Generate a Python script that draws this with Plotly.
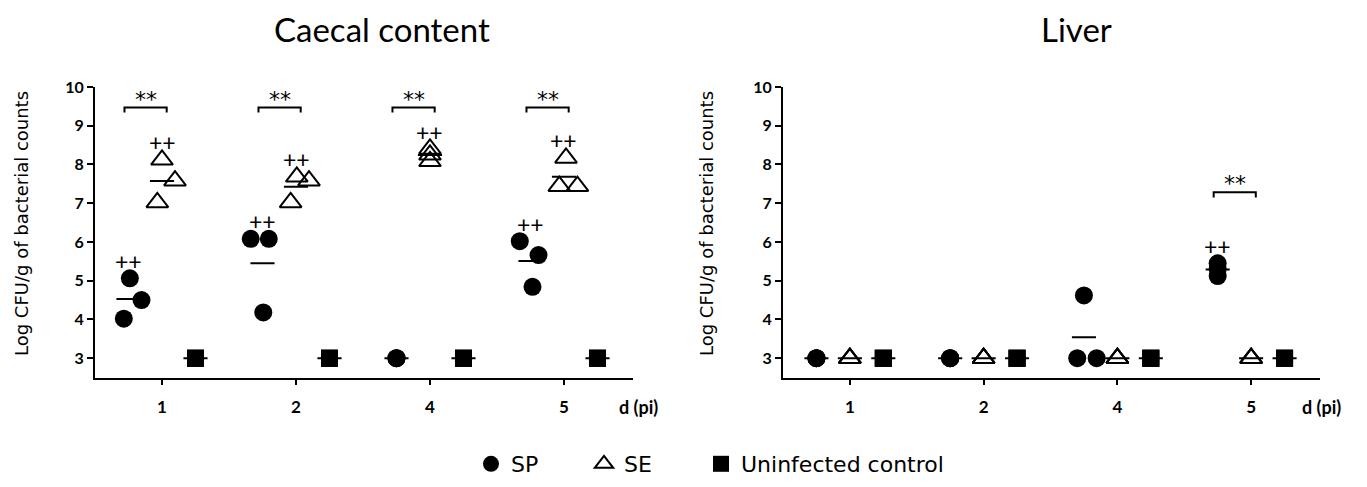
import numpy as np
import plotly.graph_objects as go

# ---------------- data ----------------
days = ["1", "2", "4", "5"]
groups = ["SP", "SE", "Uninfected control"]

# Caecal content: log CFU/g, three animals per group and day
caecal_sp = [[4.02, 5.06, 4.50], [6.08, 6.08, 4.18], [3.00, 3.00, 3.00], [6.02, 5.66, 4.84]]
caecal_se = [[8.12, 7.58, 7.02], [7.02, 7.68, 7.58], [8.40, 8.25, 8.08], [8.17, 7.44, 7.44]]
caecal_ctrl = [[3.00, 3.00, 3.00], [3.00, 3.00, 3.00], [3.00, 3.00, 3.00], [3.00, 3.00, 3.00]]

# Liver: log CFU/g
liver_sp = [[3.00, 3.00, 3.00], [3.00, 3.00, 3.00], [4.62, 3.00, 3.00], [5.45, 5.30, 5.12]]
liver_se = [[3.00, 3.00, 3.00], [3.00, 3.00, 3.00], [3.00, 3.00, 3.00], [3.00, 3.00, 3.00]]
liver_ctrl = [[3.00, 3.00, 3.00], [3.00, 3.00, 3.00], [3.00, 3.00, 3.00], [3.00, 3.00, 3.00]]

# significance marks: "++" (group, day index) and "**" bracket days (SP vs SE)
caecal_plus = [("SP", 0), ("SE", 0), ("SP", 1), ("SE", 1), ("SE", 2), ("SP", 3), ("SE", 3)]
caecal_star_days = [0, 1, 2, 3]
liver_plus = [("SP", 3)]
liver_star_days = [3]

# ---------------- layout helpers (positions / styles) ----------------
# page body has an 8px margin: figure is sized to fit inside the window
PAD = 8
FW, FH = 1367 - 2 * PAD, 487 - 2 * PAD


def px(xs):
    return (xs - PAD) / FW


def py(ys):
    return 1 - (ys - PAD) / FH


group_offset = {"SP": -0.25, "SE": 0.0, "Uninfected control": 0.25}
# horizontal scatter of individual points inside each group (visual only)
caecal_jit = {
    "SP": [[-0.035, 0.01, 0.097], [-0.088, 0.047, 0.006], [0, 0, 0], [-0.08, 0.06, 0.015]],
    "SE": [[0.0, 0.097, -0.035], [-0.04, 0.006, 0.097], [0, 0, 0], [0.015, -0.035, 0.10]],
    "Uninfected control": [[0, 0, 0]] * 4,
}
liver_jit = {
    "SP": [[0, 0, 0], [0, 0, 0], [0.0, -0.05, 0.095], [0, 0, 0]],
    "SE": [[0, 0, 0]] * 4,
    "Uninfected control": [[0, 0, 0]] * 4,
}
symbols = {
    "SP": dict(symbol="circle", size=18, color="black"),
    "SE": dict(symbol="triangle-up-open", size=19, color="black", line=dict(width=2, color="black")),
    "Uninfected control": dict(symbol="square", size=17, color="black"),
}
legend_ids = {"SP": "legend", "SE": "legend2", "Uninfected control": "legend3"}
legend_x = {"SP": 471, "SE": 584, "Uninfected control": 701}
FONT = "Lato"
mean_half = 0.09
panels = [
    dict(name="Caecal content", xa="x", ya="y",
         data={"SP": caecal_sp, "SE": caecal_se, "Uninfected control": caecal_ctrl},
         jit=caecal_jit, plus=caecal_plus, stars=caecal_star_days, bracket_y=9.47,
         dom=[px(95), px(633)], title_x=382, ylab_x=21, unit_x=638),
    dict(name="Liver", xa="x2", ya="y2",
         data={"SP": liver_sp, "SE": liver_se, "Uninfected control": liver_ctrl},
         jit=liver_jit, plus=liver_plus, stars=liver_star_days, bracket_y=7.28,
         dom=[px(783), px(1320)], title_x=1076, ylab_x=706, unit_x=1321),
]

fig = go.Figure()
annotations = []

for pi, p in enumerate(panels):
    for g in groups:
        vals = p["data"][g]
        xs, ys = [], []
        mx, my = [], []
        for d, v in enumerate(vals):
            c = d + group_offset[g]
            for k, val in enumerate(v):
                xs.append(c + p["jit"][g][d][k])
                ys.append(val)
            m = float(np.mean(v))
            mx += [c - mean_half, c + mean_half, None]
            my += [m, m, None]
        fig.add_trace(go.Scatter(
            x=xs, y=ys, mode="markers", name=g, legendgroup=g, legend=legend_ids[g],
            showlegend=(pi == 0), marker=symbols[g],
            xaxis=p["xa"], yaxis=p["ya"], hoverinfo="y"))
        fig.add_trace(go.Scatter(
            x=mx, y=my, mode="lines", line=dict(color="black", width=2),
            showlegend=False, legendgroup=g, xaxis=p["xa"], yaxis=p["ya"], hoverinfo="skip"))
    # "++" marks
    for g, d in p["plus"]:
        top = max(p["data"][g][d])
        annotations.append(dict(
            x=d + group_offset[g], y=top + 0.45, xref=p["xa"], yref=p["ya"],
            text="++", showarrow=False, font=dict(family=FONT, size=23, color="black"),
            xanchor="center", yanchor="middle"))
    # "**" brackets
    bx, by = [], []
    by0 = p["bracket_y"]
    for d in p["stars"]:
        x0 = d + group_offset["SP"] - 0.03
        x1 = d + group_offset["SE"] + 0.035
        bx += [x0, x0, x1, x1, None]
        by += [by0 - 0.13, by0, by0, by0 - 0.13, None]
        annotations.append(dict(
            x=(x0 + x1) / 2, y=by0 + 0.22, xref=p["xa"], yref=p["ya"], text="**",
            showarrow=False, font=dict(family="DejaVu Sans", size=22, color="black"),
            xanchor="center", yanchor="middle"))
    fig.add_trace(go.Scatter(x=bx, y=by, mode="lines", line=dict(color="black", width=2),
                             showlegend=False, xaxis=p["xa"], yaxis=p["ya"], hoverinfo="skip"))

    # panel title
    annotations.append(dict(x=px(p["title_x"]), y=py(29), xref="paper", yref="paper", text=p["name"],
                            showarrow=False, font=dict(family=FONT, size=33, color="black"),
                            xanchor="center", yanchor="middle"))
    # y title
    annotations.append(dict(x=px(p["ylab_x"]), y=py(224), xref="paper", yref="paper",
                            text="Log CFU/g of bacterial counts", textangle=-90, showarrow=False,
                            font=dict(family="DejaVu Sans", size=18, color="black"),
                            xanchor="center", yanchor="middle"))
    # x unit label
    annotations.append(dict(x=px(p["unit_x"]), y=py(407), xref="paper", yref="paper", text="d (pi)",
                            showarrow=False, font=dict(family=FONT, size=18, color="black", weight="bold"),
                            xanchor="center", yanchor="middle"))

axis_common = dict(showline=True, linecolor="black", linewidth=2, showgrid=False, zeroline=False,
                   ticks="outside", tickcolor="black", tickwidth=2, automargin=False)
ydom = [py(377.5), py(87)]
for pi, p in enumerate(panels):
    suffix = "" if pi == 0 else "2"
    fig.update_layout(**{
        "xaxis" + suffix: dict(axis_common, domain=p["dom"], range=[-0.5, 3.515],
                               tickvals=[0, 1, 2, 3], ticktext=days, ticklen=5,
                               tickfont=dict(family=FONT, size=17, color="black", weight="bold"),
                               ticklabelstandoff=8, anchor="y" + suffix),
        "yaxis" + suffix: dict(axis_common, domain=ydom, range=[2.5, 10],
                               tickvals=list(range(3, 11)), ticklen=6,
                               tickfont=dict(family=FONT, size=16, color="black", weight="bold"),
                               anchor="x" + suffix),
    })

legend_common = dict(orientation="h", y=py(464), xanchor="left", yanchor="middle",
                     font=dict(family="DejaVu Sans", size=22, color="black"),
                     itemsizing="trace", bgcolor="rgba(0,0,0,0)")
fig.update_layout(
    width=FW, height=FH,
    margin=dict(l=0, r=0, t=0, b=0, autoexpand=False),
    paper_bgcolor="white", plot_bgcolor="white",
    annotations=annotations,
    showlegend=True,
    legend=dict(legend_common, x=px(legend_x["SP"])),
    legend2=dict(legend_common, x=px(legend_x["SE"])),
    legend3=dict(legend_common, x=px(legend_x["Uninfected control"])),
)

fig.write_html("out.html")
